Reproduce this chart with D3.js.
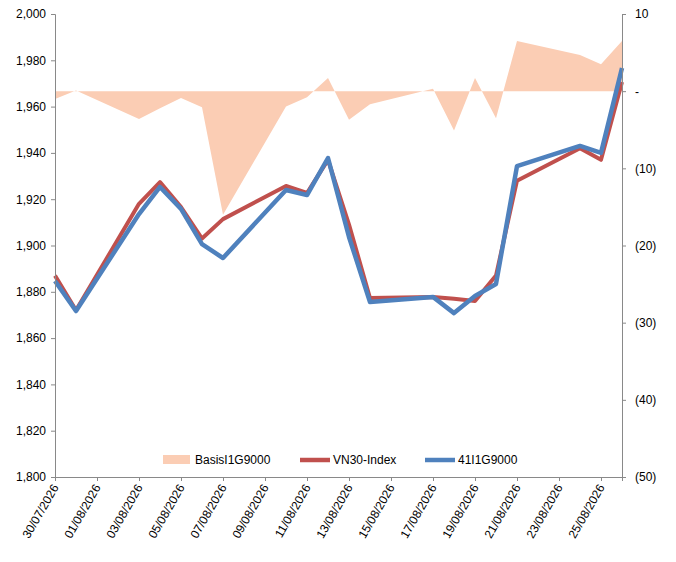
<!DOCTYPE html>
<html><head><meta charset="utf-8">
<script src="https://cdn.jsdelivr.net/npm/d3@7"></script>
<style>body{margin:0;background:#fff}text{font-family:Arial,"Liberation Sans",sans-serif}</style>
</head><body><svg id="c" width="676" height="562"></svg>
<script>
var dates = ["30/07/2026","31/07/2026","03/08/2026","04/08/2026","05/08/2026","06/08/2026","07/08/2026",
  "10/08/2026","11/08/2026","12/08/2026","13/08/2026","14/08/2026","17/08/2026","18/08/2026","19/08/2026",
  "20/08/2026","21/08/2026","24/08/2026","25/08/2026","26/08/2026"];
var vn30 = [1887,1872,1918,1927.4,1916.6,1903,1911.4,1925.7,1922.7,1937,1909,1877.3,1877.8,1877,1876,1887,1928,1942,1937,1970.6];
var fut = [1884.7,1871.7,1913.6,1925.3,1915.8,1900.6,1894.6,1924,1921.8,1937.8,1903.7,1875.6,1877.8,1870.8,1878.2,1883.4,1934.3,1943,1940,1976.7];
var basis = [-1.0,0.1,-3.6,-2.2,-0.9,-2.1,-16,-2,-0.8,1.7,-3.7,-1.7,0.3,-5.1,1.7,-3.5,6.5,4.7,3.5,6.5];
var leftTicks = d3.range(1800, 2001, 20);
var rightTicks = [10,0,-10,-20,-30,-40,-50];
var tickDates = ["30/07/2026","01/08/2026","03/08/2026","05/08/2026","07/08/2026","09/08/2026","11/08/2026",
  "13/08/2026","15/08/2026","17/08/2026","19/08/2026","21/08/2026","23/08/2026","25/08/2026"];

var parse = d3.timeParse("%d/%m/%Y"), fmt = d3.timeFormat("%d/%m/%Y");
var svg = d3.select("#c");
var L = 55, R = 622, T = 14, B = 477;
var x = d3.scaleTime().domain([parse("30/07/2026"), parse("26/08/2026")]).range([L, R]);
var y = d3.scaleLinear().domain([1800, 2000]).range([B, T]);
var y2 = d3.scaleLinear().domain([-50, 10]).range([B, T]);
var grey = "#898989";

var area = d3.area().x(function(d, i) { return x(parse(dates[i])); }).y0(y2(0)).y1(function(d) { return y2(d); });
svg.append("path").attr("d", area(basis)).attr("fill", "#fbcdb4");

function line(vals, color, w) {
  svg.append("path").datum(vals)
    .attr("d", d3.line().x(function(d, i) { return x(parse(dates[i])); }).y(function(d) { return y(d); }))
    .attr("fill", "none").attr("stroke", color).attr("stroke-width", w).attr("stroke-linejoin", "round");
}
line(vn30, "#c0504d", 4);
line(fut, "#4f81bd", 4.5);

var ax = svg.append("g").attr("transform", "translate(" + L + ",0)")
  .call(d3.axisLeft(y).tickValues(leftTicks).tickFormat(d3.format(",")).tickSize(4));
var ax2 = svg.append("g").attr("transform", "translate(" + R + ",0)")
  .call(d3.axisRight(y2).tickValues(rightTicks).tickSize(4)
    .tickFormat(function(d) { return d === 0 ? "-" : d < 0 ? "(" + (-d) + ")" : d; }));
ax2.selectAll("text").attr("dx", 6);
var axx = svg.append("g").attr("transform", "translate(0," + B + ")")
  .call(d3.axisBottom(x).tickValues(tickDates.map(parse)).tickFormat(fmt).tickSize(4));
axx.selectAll("text").attr("text-anchor", "end").attr("transform", "rotate(-60)")
  .attr("dx", "-0.6em").attr("dy", "0.1em");
[ax, ax2, axx].forEach(function(g) {
  g.select(".domain").attr("stroke", grey);
  g.selectAll(".tick line").attr("stroke", grey);
  g.selectAll("text").attr("font-size", 12).attr("fill", "#000").attr("font-family", "Arial,'Liberation Sans',sans-serif");
});
ax.selectAll("text").attr("dx", -2);

var leg = [{n:"BasisI1G9000", t:"area", c:"#fbcdb4", x:163}, {n:"VN30-Index", t:"line", c:"#c0504d", x:300}, {n:"41I1G9000", t:"line", c:"#4f81bd", x:425}];
leg.forEach(function(d) {
  if (d.t === "area") svg.append("rect").attr("x", d.x).attr("y", 455).attr("width", 27).attr("height", 9).attr("fill", d.c);
  else svg.append("line").attr("x1", d.x).attr("x2", d.x + 30).attr("y1", 460).attr("y2", 460).attr("stroke", d.c).attr("stroke-width", 4.5);
  svg.append("text").attr("x", d.x + (d.t === "area" ? 32 : 33)).attr("y", 464).attr("font-size", 12).text(d.n);
});
</script></body></html>
